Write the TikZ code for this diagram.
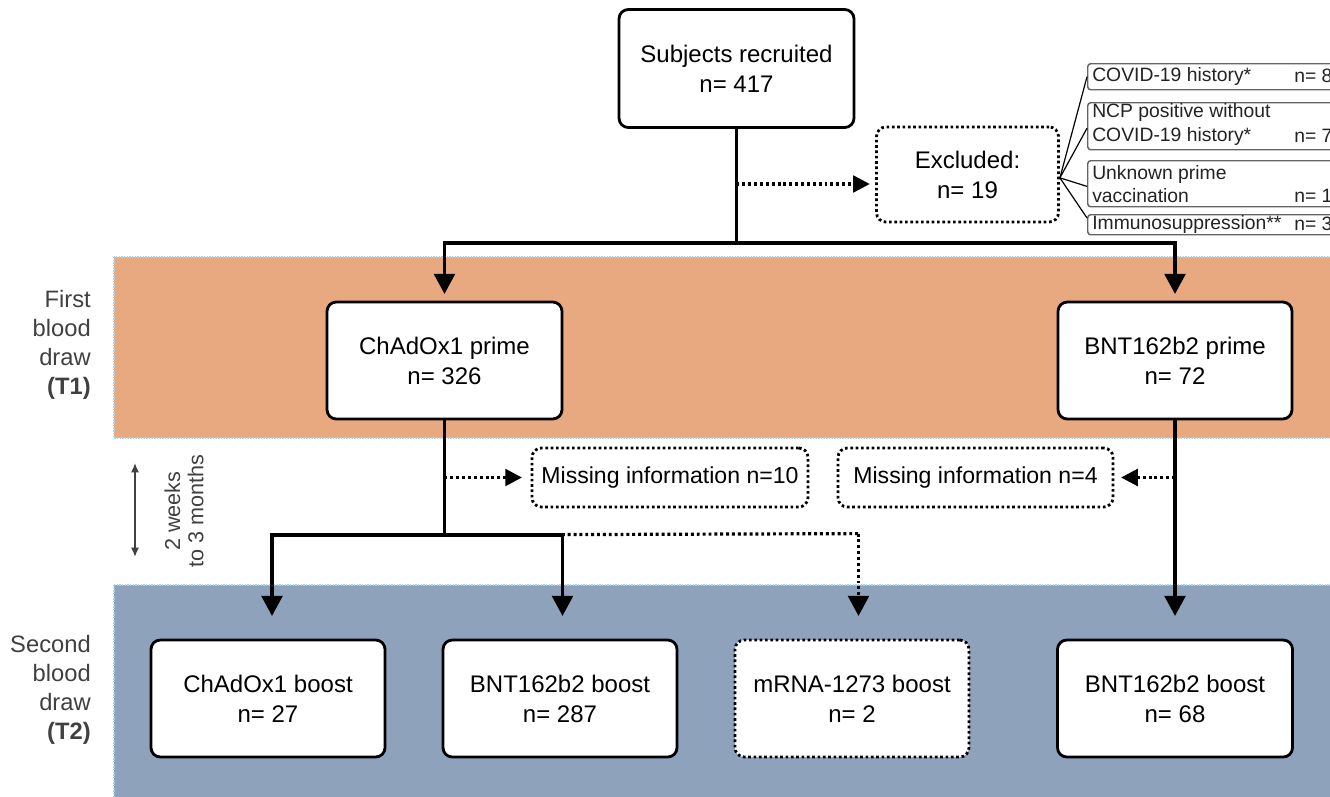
\documentclass[tikz,border=0pt]{standalone}
\usepackage{fontspec}
\setmainfont{Liberation Sans}
\usetikzlibrary{arrows.meta,calc}

\definecolor{bandorange}{RGB}{232,169,128}
\definecolor{bandblue}{RGB}{143,162,188}
\definecolor{bandedge}{RGB}{165,212,242}
\definecolor{labelgrey}{RGB}{64,64,64}
\definecolor{listgrey}{RGB}{100,100,100}
\definecolor{listtext}{RGB}{35,35,35}

\begin{document}
\begin{tikzpicture}[x=0.75pt,y=-0.75pt,
  band/.style={draw=bandedge, line width=1pt, dash pattern=on 1pt off 1pt},
  box/.style={draw=black, line width=2.1pt, rounded corners=7pt, fill=white,
    align=center, inner sep=0pt, font=\fontsize{18}{22.5}\selectfont},
  dotbox/.style={box, dash pattern=on 2pt off 2pt},
  missfont/.style={font=\fontsize{17.3}{22}\selectfont},
  listbox/.style={draw=listgrey, line width=1.1pt, rounded corners=2.2pt, fill=white,
    minimum width=195pt, inner sep=0pt, anchor=north west},
  listtxt/.style={inner sep=0pt, anchor=west, align=left, text=listtext,
    font=\fontsize{14.5}{17.3}\selectfont},
  sidelabel/.style={inner sep=0pt, anchor=east, align=right, text=labelgrey,
    font=\fontsize{17.8}{21.75}\selectfont},
  conn/.style={line width=2.4pt},
  dotconn/.style={line width=2.4pt, dash pattern=on 2.2pt off 2.2pt},
  tip/.style={-{Triangle[length=15pt,width=15.5pt]}},
  smalltip/.style={-{Triangle[length=12.5pt,width=12.5pt]}},
  fan/.style={line width=0.9pt, draw=black}
]
\useasboundingbox (0,0) rectangle (1330,796);
\clip (0,0) rectangle (1330,796);

% bands
\draw[band, fill=bandorange] (114,257) rectangle (1340,438);
\draw[band, fill=bandblue] (114,585) rectangle (1340,805);

% side labels
\node[sidelabel] (t1lab) at (91,345) {First\\blood\\draw\\\textbf{(T1)}};
\node[sidelabel] (t2lab) at (91,690) {Second\\blood\\draw\\\textbf{(T2)}};

% interval
\coordinate (itop) at (135,463);
\coordinate (ibot) at (135,557);
\draw[labelgrey, line width=1.2pt, {Latex[length=7pt,width=6pt]}-{Latex[length=7pt,width=6pt]}] (itop) -- (ibot);
\node[rotate=90, inner sep=0pt, align=center, text=labelgrey,
  font=\fontsize{16.2}{17.5}\selectfont] (ilab) at (184,511) {2 weeks\\to 3 months};

% main nodes
\node[box, minimum width=176.25pt, minimum height=88.5pt] (subj) at (736.5,68.5) {Subjects recruited\\n= 417};
\node[dotbox, minimum width=136.5pt, minimum height=71.25pt] (exc) at (967.5,174.5) {Excluded:\\n= 19};

\node[box, minimum width=176.25pt, minimum height=87.75pt] (chadp) at (444.5,360.5) {ChAdOx1 prime\\n= 326};
\node[box, minimum width=175.5pt, minimum height=87.75pt] (bntp) at (1175,360.5) {BNT162b2 prime\\n= 72};

\node[dotbox, missfont, minimum width=207pt, minimum height=44.25pt] (miss1) at (670,477.5) {Missing information n=10};
\node[dotbox, missfont, minimum width=206.25pt, minimum height=44.25pt] (miss2) at (975.5,477.5) {Missing information n=4};

\node[box, minimum width=175.5pt, minimum height=87.75pt] (chadb) at (268,698.5) {ChAdOx1 boost\\n= 27};
\node[box, minimum width=175.5pt, minimum height=87.75pt] (bntb) at (560,698.5) {BNT162b2 boost\\n= 287};
\node[dotbox, minimum width=175.5pt, minimum height=87.75pt] (mrnab) at (852,698.5) {mRNA-1273 boost\\n= 2};
\node[box, minimum width=176.25pt, minimum height=87.75pt] (bntb2) at (1175,698.5) {BNT162b2 boost\\n= 68};

% exclusion list
\node[listbox, minimum height=19.5pt] (l1) at (1087,63) {};
\node[listbox, minimum height=35.25pt] (l2) at (1087,102) {};
\node[listbox, minimum height=34.5pt] (l3) at (1087,160) {};
\node[listbox, minimum height=15pt] (l4) at (1087,214) {};

\node[listtxt] (l1a) at (1092,76) {COVID-19 history*};
\node[listtxt] (l1n) at (1294,76) {n= 8};
\node[listtxt] (l2a) at (1092,124.5) {NCP positive without\\COVID-19 history*};
\node[listtxt] (l2n) at (1294,136) {n= 7};
\node[listtxt] (l3a) at (1092,184.5) {Unknown prime\\vaccination};
\node[listtxt] (l3n) at (1294,196) {n= 1};
\node[listtxt] (l4a) at (1092,224) {Immunosuppression**};
\node[listtxt] (l4n) at (1294,224) {n= 3};

\draw[fan] ([yshift=-2.5pt]exc.east) -- (l1.west);
\draw[fan] ([yshift=-2.5pt]exc.east) -- ([yshift=-1.5pt]l2.west);
\draw[fan] ([yshift=-2.5pt]exc.east) -- ([yshift=-2pt]l3.west);
\draw[fan] ([yshift=-2.5pt]exc.east) -- ([yshift=-3pt]l4.north west);

% connectors
\coordinate (j1) at (736.5,243);
\coordinate (jexc) at (736.5,184);
\draw[conn] (subj.south) -- (j1);
\draw[dotconn, smalltip, shorten >=4pt] (jexc) -- (exc.west |- jexc);
\draw[conn, tip, shorten >=5pt] (j1) -| (chadp.north);
\draw[conn, tip, shorten >=5pt] (j1) -| (bntp.north);

\coordinate (j2) at (444.5,535);
\coordinate (jm1) at (444.5,477.5);
\draw[conn] (chadp.south) -- (j2);
\draw[dotconn, smalltip, shorten >=6.5pt] (jm1) -- (miss1.west);
\draw[dotconn] (j2) -- ($(mrnab.north)+(6.5,-105)$);
\draw[dotconn, tip, shorten >=17pt] ($(mrnab.north)+(6.5,-105)$) -- ($(mrnab.north)+(6.5,0)$);
\draw[conn, tip, shorten >=17pt] (j2) -| ($(chadb.north)+(4,0)$);
\draw[conn, tip, shorten >=17pt] (j2) -| ($(bntb.north)+(2.5,0)$);

\coordinate (jm2) at (1175,477.5);
\draw[conn, tip, shorten >=17pt] (bntp.south) -- (bntb2.north);
\draw[dotconn, smalltip, shorten >=5pt] (jm2) -- (miss2.east);

\end{tikzpicture}
\end{document}
